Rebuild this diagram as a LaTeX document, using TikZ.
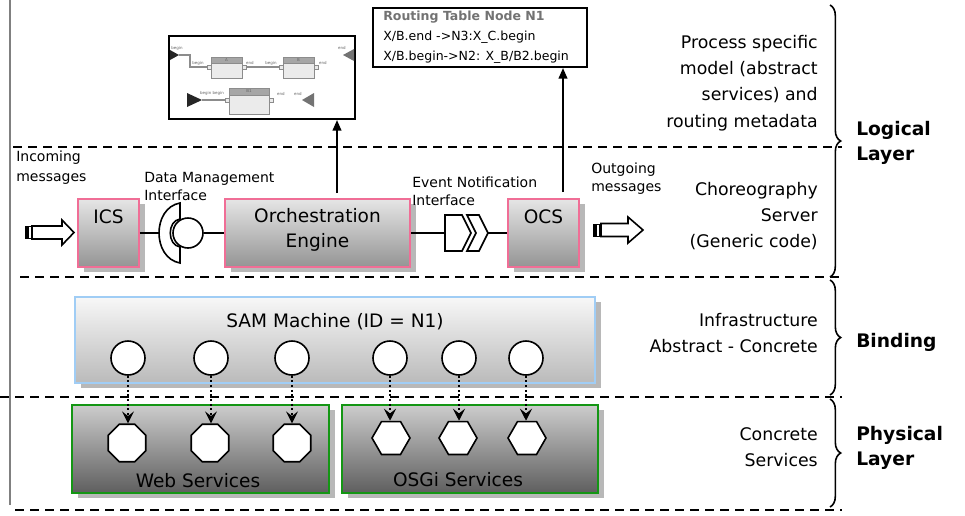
\documentclass[tikz,border=0pt]{standalone}
\usepackage{fontspec}
\setmainfont{DejaVu Sans}
\usetikzlibrary{arrows.meta,shapes.geometric,decorations.pathreplacing,fit,shadows}
\definecolor{pinkb}{RGB}{240,110,150}
\definecolor{lblue}{RGB}{160,205,245}
\definecolor{gbord}{RGB}{20,150,20}
\newcommand\boxfont{\fontsize{13.9}{17}\selectfont}
\newcommand\sidefont{\fontsize{13}{19.7}\selectfont}
\newcommand\smallfont{\fontsize{10.5}{13.5}\selectfont}
\newcommand\layerfont{\fontsize{14}{18.5}\selectfont\bfseries}
\newcommand\rtfont{\fontsize{9.4}{15}\selectfont}
\newcommand\tinyfont{\fontsize{3}{3.5}\selectfont}
\begin{document}
\begin{tikzpicture}[x=0.75pt,y=-0.75pt,
  shadowed/.style={drop shadow={shadow xshift=4.5pt,shadow yshift=-4pt,fill=black!28,opacity=1}},
  pinkbox/.style={draw=pinkb,line width=1.2pt,top color=black!10,bottom color=black!42,inner sep=0pt,shadowed},
  sambox/.style={draw=lblue,line width=1.2pt,top color=black!3,bottom color=black!27,inner sep=0pt,shadowed},
  greenbox/.style={draw=gbord,line width=1.2pt,top color=black!20,bottom color=black!63,inner sep=0pt,shadowed},
  boxlbl/.style={font=\boxfont,inner sep=0pt},
  sidetxt/.style={font=\sidefont,align=right,anchor=east,inner sep=0pt},
  smalltxt/.style={font=\smallfont,align=left,anchor=west,inner sep=0pt},
  layertxt/.style={font=\layerfont,align=left,anchor=west,inner sep=0pt},
  sep/.style={line width=1.5pt,dash pattern=on 6.75pt off 4.5pt},
  bracestyle/.style={line width=1.2pt,decorate,decoration={brace,amplitude=8pt}},
  conn/.style={line width=1.2pt},
  uparrow/.style={line width=1.5pt,-{Triangle[length=8pt,width=6.5pt]}},
  dotarrow/.style={line width=1.5pt,dotted,-{Stealth[length=9pt,width=9pt,inset=3.5pt]}},
  port/.style={circle,draw,line width=1.2pt,fill=white,minimum size=25.5pt,inner sep=0pt},
  octa/.style={regular polygon,regular polygon sides=8,draw,line width=1.2pt,fill=white,minimum size=30.5pt,inner sep=0pt},
  hexa/.style={regular polygon,regular polygon sides=6,draw,line width=1.2pt,fill=white,minimum size=28.5pt,inner sep=0pt},
  mini/.style={draw=black!45,line width=0.5pt,fill=black!8},
  minihead/.style={draw=black!45,line width=0.5pt,fill=black!35},
  minitxt/.style={font=\tinyfont,text=black!60,inner sep=0pt}
]
\useasboundingbox (0,0) rectangle (965,515);

% left border line
\draw[black!50,line width=1.5pt] (10,0) -- (10,505);

% layer separators
\draw[sep] (13,147) -- (842,147);
\draw[sep] (20,277) -- (842,277);
\draw[sep] (0,397) -- (842,397);
\draw[sep] (15,510) -- (842,510);

% braces
\draw[bracestyle] (830,5) -- (830,277);
\draw[bracestyle] (830,280) -- (830,395);
\draw[bracestyle] (830,399) -- (830,507);

% layer labels
\node[layertxt] (logical) at (856,143) {Logical\\Layer};
\node[layertxt] (binding) at (856,342) {Binding};
\node[layertxt] (physical) at (856,448) {Physical\\Layer};

% side descriptions
\node[sidetxt] (procdesc) at (818,83) {Process specific\\model (abstract\\services) and\\routing metadata};
\node[sidetxt] (chordesc) at (818,216) {Choreography\\Server\\(Generic code)};
\node[sidetxt] (infdesc) at (818,333) {Infrastructure\\Abstract - Concrete};
\node[sidetxt] (concdesc) at (818,447) {Concrete\\Services};

% ---------- process model box ----------
\node[draw,line width=1.5pt,fill=white,inner sep=0pt,fit={(169,36) (355,119)}] (model) {};
% mini model picture
\fill[black!85] (170,50) -- (179,55) -- (170,60) -- cycle;
\node[minitxt] (mb1) at (177,48) {begin};
\draw[black!45,line width=0.8pt] (179,55) -- (190,55) -- (190,67) -- (207,67);
\node[minitxt] (mb2) at (198,63) {begin};
\draw[mini] (207,65) rectangle (211,69);
\draw[mini] (211,57) rectangle (242,78);
\draw[minihead] (211,57) rectangle (242,63);
\node[minitxt] (ma) at (226.5,60) {A};
\draw[mini] (242,65) rectangle (246,69);
\node[minitxt] (me1) at (250,63) {end};
\draw[black!45,line width=0.8pt] (246,67) -- (279,67);
\node[minitxt] (mb3) at (271,63) {begin};
\draw[mini] (279,65) rectangle (283,69);
\draw[mini] (283,57) rectangle (314,78);
\draw[minihead] (283,57) rectangle (314,63);
\node[minitxt] (mbb) at (298.5,60) {B};
\draw[mini] (314,65) rectangle (318,69);
\node[minitxt] (me2) at (323,63) {end};
\fill[black!55] (354,49) -- (343,55) -- (354,61) -- cycle;
\node[minitxt] (me3) at (342,48) {end};
\fill[black!85] (187,93) -- (202,100) -- (187,107) -- cycle;
\node[minitxt] (mb4) at (212,93) {begin begin};
\draw[black!45,line width=0.8pt] (202,100) -- (225,100);
\draw[mini] (225,98) rectangle (229,102);
\draw[mini] (229,88) rectangle (269,114);
\draw[minihead] (229,88) rectangle (269,95);
\node[minitxt] (mb5) at (249,91.5) {B1};
\draw[mini] (269,98) rectangle (273,102);
\node[minitxt] (me4) at (281,94) {end};
\node[minitxt] (me5) at (298,94) {end};
\fill[black!55] (314,93) -- (302,100) -- (314,107) -- cycle;

% ---------- routing table ----------
\node[draw,line width=1.5pt,fill=white,inner sep=0pt,fit={(373,8) (587,67)}] (rt) {};
\node[font=\rtfont,align=left,anchor=north west,inner sep=0pt] (rttext) at (383,11)
  {{\color{black!55}\bfseries Routing Table Node N1}\\X/B.end ->N3:X\_C.begin\\X/B.begin->N2: X\_B/B2.begin};

% ---------- choreography server ----------
\node[pinkbox,fit={(78,199) (139,267)}] (ics) {};
\node[boxlbl] (icslbl) at (108.5,217) {ICS};
\node[pinkbox,fit={(225,199) (410,267)}] (oe) {};
\node[boxlbl,align=center,font=\fontsize{13.9}{18.75}\selectfont] (oelbl) at (317.5,229.5) {Orchestration\\Engine};
\node[pinkbox,fit={(508,199) (579,267)}] (ocs) {};
\node[boxlbl] (ocslbl) at (543.5,217) {OCS};

% data management interface (socket + ball)
\coordinate (sockL) at (159,233);
\draw[conn,fill=white] (180,203) .. controls (152,208) and (152,258) .. (180,263)
  -- (180,247) .. controls (167,245) and (167,221) .. (180,219) -- cycle;
\node[circle,draw,line width=1.2pt,fill=white,minimum size=22.5pt,inner sep=0pt] (ball) at (188,233) {};
\draw[conn] (ics.east) -- (sockL);
\draw[conn] (ball) -- (oe.west);

% event notification interface
\coordinate (evL) at (445,233);
\coordinate (evR) at (488,233);
\draw[conn,fill=white] (445,215) -- (462,215) -- (471,233) -- (462,251) -- (445,251) -- cycle;
\draw[conn,fill=white] (467,215) -- (479,215) -- (488,233) -- (479,251) -- (467,251) -- (476,233) -- cycle;
\draw[conn] (oe.east) -- (evL);
\draw[conn] (evR) -- (ocs.west);

% up arrows
\coordinate (oeup) at (337,193);
\draw[uparrow] (oeup) -- (oeup |- model.south);
\coordinate (ocsup) at (563,192);
\draw[uparrow] (ocsup) -- (ocsup |- rt.south);

% incoming / outgoing block arrows
\draw[line width=1.2pt,fill=white] (32,226) -- (62,226) -- (62,220) -- (74,232.5) -- (62,245) -- (62,239) -- (32,239) -- cycle;
\fill[black] (25,226) rectangle (33,239);
\draw[white,line width=0.8pt] (30,227) -- (30,238);
\draw[line width=1.2pt,fill=white] (601,223.5) -- (628,223.5) -- (628,217) -- (643,230) -- (628,243) -- (628,236.5) -- (601,236.5) -- cycle;
\fill[black] (593,223.5) rectangle (601,236.5);
\draw[white,line width=0.8pt] (598,224.5) -- (598,235.5);

% small labels
\node[smalltxt,font=\fontsize{10.5}{15}\selectfont] (inlbl) at (16,168) {Incoming\\messages};
\node[smalltxt] (dmlbl) at (144,186) {Data Management\\Interface};
\node[smalltxt] (evlbl) at (412,191) {Event Notification\\Interface};
\node[smalltxt] (outlbl) at (591,179) {Outgoing\\messages};

% ---------- SAM machine ----------
\node[sambox,fit={(75,297) (595,383)}] (sam) {};
\node[boxlbl] (samlbl) at (335,322) {SAM Machine (ID = N1)};
\node[port] (s1) at (128,358) {};
\node[port] (s2) at (211,358) {};
\node[port] (s3) at (292,358) {};
\node[port] (s4) at (390,358) {};
\node[port] (s5) at (459,358) {};
\node[port] (s6) at (526,358) {};

% ---------- concrete services ----------
\node[greenbox,fit={(72,405) (329,493)}] (ws) {};
\node[boxlbl] (wslbl) at (198,481) {Web Services};
\node[greenbox,fit={(342,405) (598,493)}] (osgi) {};
\node[boxlbl] (osgilbl) at (458,480) {OSGi Services};
\node[octa] (w1) at (127,443) {};
\node[octa] (w2) at (210,443) {};
\node[octa] (w3) at (292,443) {};
\node[hexa] (h1) at (391,438) {};
\node[hexa] (h2) at (458,438) {};
\node[hexa] (h3) at (527,438) {};

% dotted bindings
\draw[dotarrow] (s1.south) -- (s1.south |- w1.north);
\draw[dotarrow] (s2.south) -- (s2.south |- w2.north);
\draw[dotarrow] (s3.south) -- (s3.south |- w3.north);
\draw[dotarrow] (s4.south) -- (s4.south |- h1.north);
\draw[dotarrow] (s5.south) -- (s5.south |- h2.north);
\draw[dotarrow] (s6.south) -- (s6.south |- h3.north);
\end{tikzpicture}
\end{document}
